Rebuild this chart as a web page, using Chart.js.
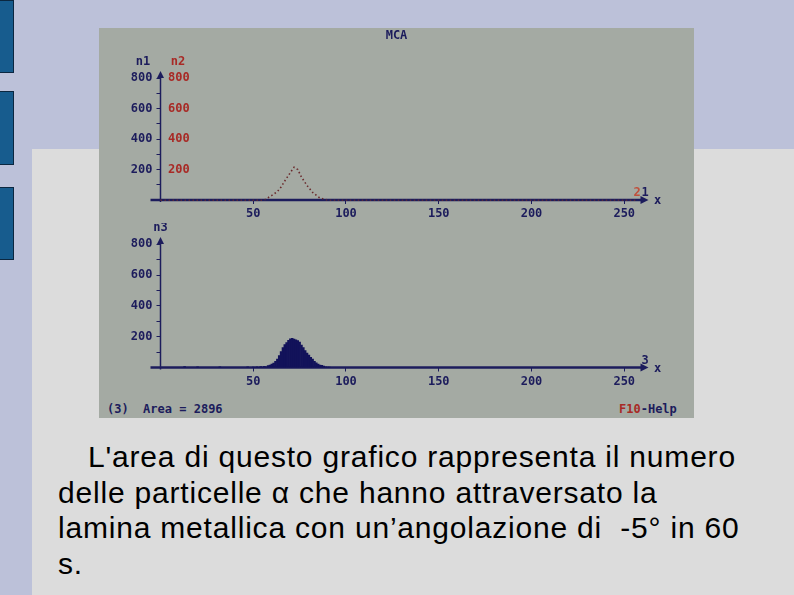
<!DOCTYPE html>
<html>
<head>
<meta charset="utf-8">
<script src="https://cdn.jsdelivr.net/npm/chart.js@4/dist/chart.umd.min.js"></script>
<style>
  body { margin: 0; width: 794px; height: 595px; background: #bcc1d9; position: relative; overflow: hidden; }
  .bar { position: absolute; left: 0; width: 13px; background: #175c8e; border: 1px solid #0b2740; border-left: 0; }
  #panel { position: absolute; left: 32px; top: 149px; right: 0; bottom: 0; background: #dcdcdc; }
  #mca { position: absolute; left: 99px; top: 28px; width: 595px; height: 390px; background: #a4aaa3; }
  #mca canvas { position: absolute; left: 0; }
  .dos { position: absolute; font: bold 12px "DejaVu Sans Mono", monospace; color: #1c1c5c; white-space: pre; line-height: 12px; }
  .red { color: #a82a26; }
  #caption { position: absolute; left: 58px; top: 439px; width: 736px; font: 30px "Liberation Sans", Arial, sans-serif; line-height: 35.5px; letter-spacing: 0.8px; color: #000; white-space: nowrap; }
</style>
</head>
<body>
<div class="bar" style="top:0;height:71px"></div>
<div class="bar" style="top:91px;height:72px"></div>
<div class="bar" style="top:187px;height:71px"></div>
<div id="panel"></div>
<div id="mca">
  <canvas id="top-chart" width="595" height="195" style="top:0"></canvas>
  <canvas id="bottom-chart" width="595" height="172" style="top:195px"></canvas>
  <div class="dos" style="left:0;width:595px;text-align:center;top:1px">MCA</div>
  <div class="dos" style="left:8px;top:375px">(3)  Area = 2896</div>
  <div class="dos" style="left:520px;top:375px"><span class="red">F10</span>-Help</div>
</div>
<div id="caption"><span style="padding-left:30px"></span>L'area di questo grafico rappresenta il numero<br>delle particelle α che hanno attraversato la<br>lamina metallica con un’angolazione di &nbsp;-5° in 60<br>s.</div>

<script>
/**
 * Data
 */
const channelTicks = [50, 100, 150, 200, 250];
const countTicks = [100, 200, 300, 400, 500, 600, 700, 800];
const countLabels = [200, 400, 600, 800];

const n1Channels = [0, 256];
const n1Counts = [0, 0];

const n2Channels = [0, 56, 60, 63, 65, 67, 70, 72, 74, 76, 79, 82, 86, 90, 256];
const n2Counts = [0, 0, 30, 55, 85, 125, 180, 215, 200, 150, 95, 50, 12, 0, 0];

const n3Channels = [13, 20, 32, 47, 50, 51, 52, 53, 54, 55, 56, 57, 58, 59, 60, 61, 62, 63, 64, 65, 66, 67, 68, 69, 70,
  71, 72, 73, 74, 75, 76, 77, 78, 79, 80, 81, 82, 83, 84, 85, 86, 87, 88, 89, 90, 91];
const n3Counts = [6, 5, 4, 5, 3, 0, 4, 0, 6, 3, 8, 5, 12, 16, 22, 28, 40, 55, 78, 104, 130, 148, 162, 176, 186,
  190, 184, 180, 174, 165, 146, 130, 110, 94, 80, 66, 55, 40, 30, 22, 16, 14, 9, 5, 3, 2];

const NAVY = '#1c1c5c';
const RED = '#a82a26';
const FONT = { family: 'DejaVu Sans Mono', weight: 'bold', size: 12 };

const toPoints = (xs, ys) => xs.map((x, i) => ({ x: x, y: ys[i] }));

/**
 * Axes drawn DOS style: thick x axis with arrow, y axis with arrow, extra labels
 */
const mcaAxes = {
  id: 'mcaAxes',
  beforeDatasetsDraw(chart, args, opts) {
    const { ctx, chartArea } = chart;
    const x0 = chart.scales.x.getPixelForValue(0);
    const y0 = chart.scales.y.getPixelForValue(0);
    ctx.save();
    ctx.strokeStyle = NAVY;
    ctx.fillStyle = NAVY;
    // x axis
    ctx.lineWidth = 2.5;
    ctx.beginPath();
    ctx.moveTo(x0 - 10, y0);
    ctx.lineTo(chartArea.right - 4, y0);
    ctx.stroke();
    ctx.beginPath();
    ctx.moveTo(chartArea.right + 2, y0);
    ctx.lineTo(chartArea.right - 6, y0 - 4);
    ctx.lineTo(chartArea.right - 6, y0 + 4);
    ctx.closePath();
    ctx.fill();
    // y axis
    ctx.lineWidth = 1.5;
    ctx.beginPath();
    ctx.moveTo(x0, y0 + 2);
    ctx.lineTo(x0, chartArea.top + 4);
    ctx.stroke();
    ctx.beginPath();
    ctx.moveTo(x0, chartArea.top - 1);
    ctx.lineTo(x0 - 3.5, chartArea.top + 6);
    ctx.lineTo(x0 + 3.5, chartArea.top + 6);
    ctx.closePath();
    ctx.fill();
    ctx.restore();
  },
  afterDraw(chart, args, opts) {
    const { ctx, chartArea } = chart;
    const x0 = chart.scales.x.getPixelForValue(0);
    const y0 = chart.scales.y.getPixelForValue(0);
    ctx.save();
    ctx.font = 'bold 12px "DejaVu Sans Mono"';
    ctx.textBaseline = 'middle';
    ctx.textAlign = 'center';
    (opts.names || []).forEach(n => {
      ctx.fillStyle = n.color;
      ctx.fillText(n.text, x0 + n.dx, chartArea.top - 10);
    });
    (opts.ends || []).forEach(n => {
      ctx.fillStyle = n.color;
      ctx.fillText(n.text, chartArea.right + n.dx, y0 - 7);
    });
    ctx.fillStyle = NAVY;
    ctx.fillText('x', chartArea.right + 11, y0 + 1);
    if (opts.mirror) {
      ctx.textAlign = 'left';
      ctx.fillStyle = opts.mirror;
      countLabels.forEach(v => {
        ctx.fillText(String(v), x0 + 7.5, chart.scales.y.getPixelForValue(v));
      });
    }
    ctx.restore();
  }
};

const makeScales = (xHeight) => ({
  x: {
    type: 'linear',
    min: 0,
    max: 262,
    offset: false,
    afterFit: (s) => { s.height = xHeight; },
    afterBuildTicks: (s) => { s.ticks = channelTicks.map(v => ({ value: v })); },
    grid: { drawOnChartArea: false, color: NAVY, tickLength: 4, offset: false },
    border: { display: false },
    ticks: { color: NAVY, font: FONT, padding: 3, maxRotation: 0 }
  },
  y: {
    type: 'linear',
    min: 0,
    max: 840,
    afterFit: (s) => { s.width = 61.5; },
    afterBuildTicks: (s) => { s.ticks = countTicks.map(v => ({ value: v })); },
    grid: { drawOnChartArea: false, color: NAVY, tickLength: 4 },
    border: { display: false },
    ticks: {
      color: NAVY,
      font: FONT,
      padding: 4,
      callback: (v) => countLabels.includes(v) ? String(v) : ''
    }
  }
});

const createTopChart = () => {
  const ctx = document.getElementById('top-chart').getContext('2d');
  new Chart(ctx, {
    type: 'line',
    data: {
      datasets: [
        {
          label: 'n1',
          data: toPoints(n1Channels, n1Counts),
          borderColor: NAVY,
          borderWidth: 1,
          pointRadius: 0
        },
        {
          label: 'n2',
          data: toPoints(n2Channels, n2Counts),
          borderColor: '#6a2a2c',
          borderWidth: 1.6,
          borderDash: [1.5, 2.5],
          pointRadius: 0,
          tension: 0,
          clip: false
        }
      ]
    },
    options: {
      responsive: false,
      animation: false,
      layout: { padding: { left: 0, right: 47.5, top: 44, bottom: 0 } },
      scales: makeScales(23),
      plugins: {
        legend: { display: false },
        tooltip: { enabled: false },
        mcaAxes: {
          names: [{ text: 'n1', color: NAVY, dx: -17.5 }, { text: 'n2', color: RED, dx: 17.5 }],
          ends: [{ text: '2', color: '#c0503c', dx: -9.5 }, { text: '1', color: NAVY, dx: -1.5 }],
          mirror: RED
        }
      }
    },
    plugins: [mcaAxes]
  });
};

const createBottomChart = () => {
  const ctx = document.getElementById('bottom-chart').getContext('2d');
  new Chart(ctx, {
    type: 'bar',
    data: {
      datasets: [
        {
          label: 'n3',
          data: toPoints(n3Channels, n3Counts),
          backgroundColor: '#12125a',
          borderWidth: 0,
          barPercentage: 1,
          categoryPercentage: 1
        }
      ]
    },
    options: {
      responsive: false,
      animation: false,
      layout: { padding: { left: 0, right: 47.5, top: 15, bottom: 0 } },
      scales: makeScales(27.5),
      plugins: {
        legend: { display: false },
        tooltip: { enabled: false },
        mcaAxes: {
          names: [{ text: 'n3', color: NAVY, dx: 0 }],
          ends: [{ text: '3', color: NAVY, dx: -1.5 }]
        }
      }
    },
    plugins: [mcaAxes]
  });
};

/**
 * Events
 */
document.addEventListener('DOMContentLoaded', () => {
  createTopChart();
  createBottomChart();
});
</script>
</body>
</html>
